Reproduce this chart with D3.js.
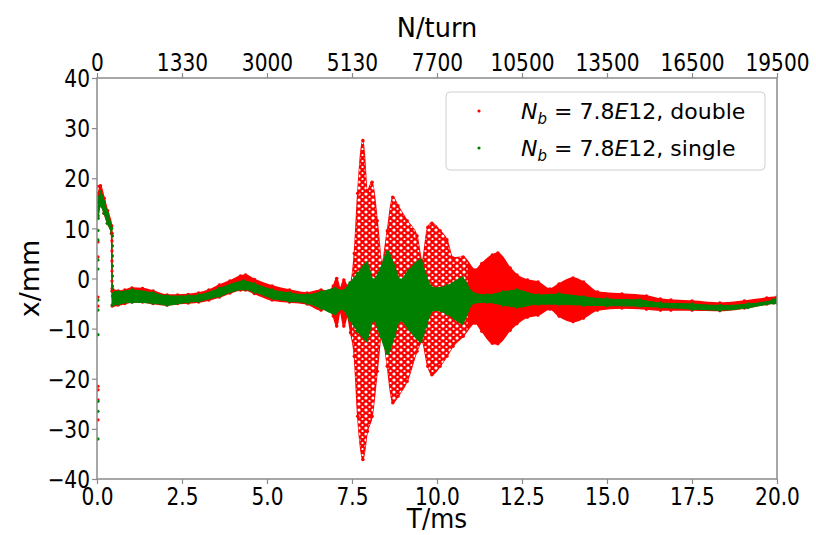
<!DOCTYPE html>
<html><head><meta charset="utf-8">
<script src="https://cdn.jsdelivr.net/npm/d3@7"></script>
<style>
html,body{margin:0;padding:0;background:#fff;}
svg{display:block;font-family:"DejaVu Sans",sans-serif;}
</style></head>
<body>
<svg id="chart" width="816" height="535"></svg>
<script>
// ---------- data ----------
const xTicksBottom = [0, 2.5, 5, 7.5, 10, 12.5, 15, 17.5, 20];
const xTickLabelsBottom = ["0.0","2.5","5.0","7.5","10.0","12.5","15.0","17.5","20.0"];
const xTickLabelsTop = ["0","1330","3000","5130","7700","10500","13500","16500","19500"];
const yTicks = [-40,-30,-20,-10,0,10,20,30,40];

// red series "double": envelope (upper / lower) of the scatter cloud
const redT  = [0.03,0.1,0.21,0.31,0.43,0.45,0.62,0.82,1.03,1.34,1.65,2.06,2.37,2.68,2.99,3.29,3.6,3.91,4.22,4.37,4.63,5.15,5.66,6.18,6.59,6.79,6.95,7.05,7.15,7.26,7.36,7.46,7.57,7.67,7.82,7.95,8.09,8.24,8.38,8.54,8.7,8.85,9.12,9.41,9.56,9.73,9.85,10.09,10.29,10.47,10.77,11.12,11.32,11.63,11.79,12.15,12.35,12.66,12.97,13.32,13.59,14.0,14.31,14.72,15.44,16.16,16.57,16.88,17.5,18.32,19.04,19.7,20.0];
const redHi = [16.5,18.5,16,13.5,10.5,-2,-2.5,-2.3,-1.9,-2,-2.5,-3.3,-3.3,-3.2,-2.9,-2.3,-1.3,-0.5,0.5,0.7,-0.2,-1.5,-2.3,-2.9,-2.3,-2.7,-1.5,0,-2,-0.3,-1.5,-0.9,5,17,27.5,17.5,19.2,11.5,3.1,9.5,16.2,14.5,11.5,8.5,3.5,10.2,11,9.5,7.7,4.1,4.3,1.7,3,4.7,5.1,2.1,0.7,-0.3,-0.7,-2.1,-1.1,0.1,-0.7,-2.7,-3.1,-3.5,-4.1,-4.3,-4.5,-4.9,-4.5,-3.9,-3.7];
const redLo = [12.5,15,13,11,9,-5.5,-5.3,-5,-4.7,-4.7,-5,-5.3,-5,-4.9,-4.7,-4.3,-3.7,-2.9,-2.3,-2.3,-3,-4.3,-4.7,-5.1,-6.3,-5.9,-7.5,-9.5,-6.5,-9.5,-7.5,-10.8,-15.5,-27.5,-36.1,-30.5,-27.5,-18.5,-10.5,-17.5,-24.8,-23.5,-20.5,-14.5,-12.5,-17.5,-19.2,-17.5,-15.5,-13.5,-11.5,-8.9,-10.5,-12.9,-13,-10.3,-9,-7.7,-7.3,-6.1,-7.5,-8.6,-7.9,-6.3,-5.9,-6.1,-6.3,-6.3,-6.3,-6.4,-5.9,-5.1,-4.9];

// green series "single"
const greenT  = [0.03,0.1,0.21,0.31,0.43,0.45,0.62,1.03,1.65,2.06,2.68,2.99,3.6,4.32,4.63,5.15,5.66,6.18,6.59,7.0,7.21,7.44,7.67,7.93,8.13,8.34,8.55,8.75,8.91,9.16,9.52,9.68,9.88,10.29,10.74,11.06,11.47,11.94,12.35,12.97,13.59,14.31,15.0,15.96,16.57,17.5,18.32,19.15,19.9,20.0];
const greenHi = [15.5,17.3,15.3,13,10,-2.5,-2.7,-2.3,-2.9,-3.5,-3.5,-3.3,-2,-0.5,-1.1,-2.3,-2.9,-3.3,-2.7,-2,-2.5,-0.9,1,3.1,-0.3,2,5.3,2.5,-0.3,1.5,3.7,0.5,-1.9,-1.5,0.1,-2.9,-3.3,-2.7,-2.3,-3.3,-3.1,-3.7,-4.1,-4.3,-4.9,-5.1,-5.4,-5.1,-4.3,-4.1];
const greenLo = [12,14.5,13,11,9,-5.3,-5.1,-4.7,-4.9,-5.3,-4.7,-4.5,-3.5,-2.1,-2.7,-3.9,-4.5,-4.9,-5.9,-7,-6,-8.3,-10.5,-12.3,-8.3,-11.5,-14.9,-11.5,-8.3,-10,-12.5,-9.5,-6.3,-7,-8.9,-4.9,-4.7,-5.3,-5.7,-5.1,-5.1,-5.3,-5.4,-5.5,-5.7,-6.1,-6.3,-5.8,-4.9,-4.8];

// isolated points near T = 0 and along the drop at T = 0.44 ms
const redStartX   = [18.4,17,7.3,4.3,-3.7,-5.5,-21.5,-22.2,-24.2,-28.2];
const greenStartX = [14.2,9.6,7.7,3.7,1.9,-4.3,-6.3,-11.2,-24.5,-26.5,-32];
const dropT = 0.44;
const redDropX   = [9,7.5,5.5,3.5,1.5,-0.5,-2.5];
const greenDropX = [8.5,6.5,4.5,2.5,0.5,-1.5,-3.5];

const seriesNames = ["double","single"];
const seriesColors = ["#ff0000","#008000"];

// ---------- drawing ----------
const svg = d3.select("#chart");
const m = {left:97, right:777, top:78, bottom:479};
const x = d3.scaleLinear().domain([0,20]).range([m.left, m.right]);
const y = d3.scaleLinear().domain([-40,40]).range([m.bottom, m.top]);
const spine = "#8a8a8a";

const defs = svg.append("defs");
defs.append("clipPath").attr("id","plotclip").append("rect")
  .attr("x",m.left).attr("y",m.top).attr("width",m.right-m.left).attr("height",m.bottom-m.top);
const pat = defs.append("pattern").attr("id","speckle").attr("patternUnits","userSpaceOnUse")
  .attr("width",7).attr("height",6);
pat.append("circle").attr("cx",2).attr("cy",2).attr("r",1.6).attr("fill","#fff");
pat.append("circle").attr("cx",5.5).attr("cy",5).attr("r",1.1).attr("fill","#fff");

const plot = svg.append("g").attr("clip-path","url(#plotclip)");

function band(T, hi, lo){
  return d3.area().x((d,i)=>x(T[i])).y0((d,i)=>y(lo[i])).y1((d,i)=>y(hi[i])).curve(d3.curveMonotoneX)(T);
}
function edgeDots(g, T, hi, lo, color){
  const pts = [];
  T.forEach((t,i)=>{ pts.push([t,hi[i]]); pts.push([t,lo[i]]); });
  g.selectAll(null).data(pts).enter().append("circle")
    .attr("cx",d=>x(d[0])).attr("cy",d=>y(d[1])).attr("r",1.8).attr("fill",color);
}

// red
const redPath = band(redT, redHi, redLo);
plot.append("path").attr("d",redPath).attr("fill",seriesColors[0])
  .attr("stroke",seriesColors[0]).attr("stroke-width",1.5);
defs.append("clipPath").attr("id","redclip").append("path").attr("d",redPath);
plot.append("rect").attr("x",x(7.5)).attr("width",x(10.9)-x(7.5))
  .attr("y",m.top).attr("height",m.bottom-m.top)
  .attr("fill","url(#speckle)").attr("clip-path","url(#redclip)");
edgeDots(plot, redT, redHi, redLo, seriesColors[0]);

// green
plot.append("path").attr("d",band(greenT, greenHi, greenLo)).attr("fill",seriesColors[1])
  .attr("stroke",seriesColors[1]).attr("stroke-width",1.2);
edgeDots(plot, greenT, greenHi, greenLo, seriesColors[1]);

// start & drop points
plot.selectAll(null).data(redStartX).enter().append("circle")
  .attr("cx",x(0)+1).attr("cy",d=>y(d)).attr("r",1.6).attr("fill",seriesColors[0]);
plot.selectAll(null).data(greenStartX).enter().append("circle")
  .attr("cx",x(0)+1).attr("cy",d=>y(d)).attr("r",1.6).attr("fill",seriesColors[1]);
plot.selectAll(null).data(redDropX).enter().append("circle")
  .attr("cx",x(dropT)).attr("cy",d=>y(d)).attr("r",1.6).attr("fill",seriesColors[0]);
plot.selectAll(null).data(greenDropX).enter().append("circle")
  .attr("cx",x(dropT)+0.5).attr("cy",d=>y(d)).attr("r",1.6).attr("fill",seriesColors[1]);

// axes
const fs = 24, sx = 0.84;
const axB = d3.axisBottom(x).tickValues(xTicksBottom).tickFormat((d,i)=>xTickLabelsBottom[i]).tickSize(5);
const axT = d3.axisTop(x).tickValues(xTicksBottom).tickFormat((d,i)=>xTickLabelsTop[i]).tickSize(5);
const axL = d3.axisLeft(y).tickValues(yTicks).tickFormat(d=>d<0?"\u2212"+Math.abs(d):d).tickSize(5);
function style(g){
  g.select(".domain").remove();
  g.selectAll("line").attr("stroke",spine).attr("stroke-width",1.2);
  g.selectAll("text").attr("font-size",fs).attr("fill","#000").attr("font-family","DejaVu Sans")
    .attr("transform",`scale(${sx},1)`);
}
svg.append("g").attr("transform",`translate(0,${m.bottom})`).call(axB).call(style)
  .selectAll("text").attr("y",26).attr("dy",0);
svg.append("g").attr("transform",`translate(0,${m.top})`).call(axT).call(style)
  .selectAll("text").attr("y",-7).attr("dy",0);
svg.append("g").attr("transform",`translate(${m.left},0)`).call(axL).call(style)
  .selectAll("text").attr("x",-7/sx).attr("dy","0.36em");

svg.append("rect").attr("x",m.left).attr("y",m.top).attr("width",m.right-m.left).attr("height",m.bottom-m.top)
  .attr("fill","none").attr("stroke",spine).attr("stroke-width",1.5);

// axis labels
const cx = (m.left+m.right)/2;
svg.append("text").attr("transform",`translate(${cx},528) scale(0.95,1)`).attr("text-anchor","middle")
  .attr("font-size",26).text("T/ms");
svg.append("text").attr("transform",`translate(${cx},37) scale(0.95,1)`).attr("text-anchor","middle")
  .attr("font-size",27).text("N/turn");
svg.append("text").attr("transform",`translate(39,${(m.top+m.bottom)/2}) rotate(-90)`)
  .attr("text-anchor","middle").attr("font-size",27).text("x/mm");

// legend
const lg = svg.append("g");
lg.append("rect").attr("x",446).attr("y",92).attr("width",319).attr("height",78).attr("rx",4)
  .attr("fill","#fff").attr("fill-opacity",0.85).attr("stroke","#d0d0d0").attr("stroke-width",1);
seriesNames.forEach((name,i)=>{
  const cy = 111 + i*37;
  lg.append("circle").attr("cx",479).attr("cy",cy).attr("r",1.6).attr("fill",seriesColors[i]);
  const t = lg.append("text").attr("x",521).attr("y",cy+8).attr("font-size",22);
  t.append("tspan").attr("font-style","italic").text("N");
  t.append("tspan").attr("font-style","italic").attr("font-size",15).attr("dy",5).text("b");
  t.append("tspan").attr("dy",-5).text(" = 7.8");
  t.append("tspan").attr("font-style","italic").text("E");
  t.append("tspan").text("12, " + name);
});
</script>
</body></html>
